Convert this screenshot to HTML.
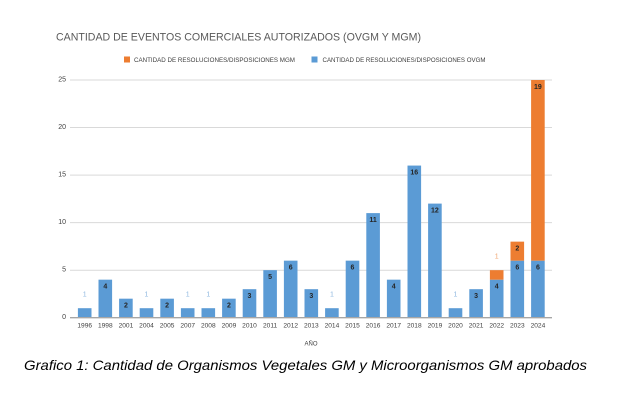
<!DOCTYPE html>
<html><head><meta charset="utf-8"><style>
html,body{margin:0;padding:0;background:#fff;}
svg{display:block;}
text{font-family:"Liberation Sans",sans-serif;}
</style></head><body>
<svg width="637" height="403" viewBox="0 0 637 403" xmlns="http://www.w3.org/2000/svg">
<rect width="637" height="403" fill="#fff"/>
<text x="56" y="40.5" font-size="11" fill="#595959" textLength="365" lengthAdjust="spacingAndGlyphs">CANTIDAD DE EVENTOS COMERCIALES AUTORIZADOS (OVGM Y MGM)</text>
<rect x="124" y="56.5" width="6" height="6" fill="#ED7D31"/>
<text x="134" y="62" font-size="6.5" fill="#404040" textLength="161" lengthAdjust="spacingAndGlyphs">CANTIDAD DE RESOLUCIONES/DISPOSICIONES MGM</text>
<rect x="311.5" y="56.5" width="6" height="6" fill="#5B9BD5"/>
<text x="322.5" y="62" font-size="6.5" fill="#404040" textLength="163" lengthAdjust="spacingAndGlyphs">CANTIDAD DE RESOLUCIONES/DISPOSICIONES OVGM</text>
<g stroke="#d9d9d9" stroke-width="1">
<line x1="70" y1="80" x2="552" y2="80"/>
<line x1="70" y1="127.5" x2="552" y2="127.5"/>
<line x1="70" y1="175.1" x2="552" y2="175.1"/>
<line x1="70" y1="222.6" x2="552" y2="222.6"/>
<line x1="70" y1="270.2" x2="552" y2="270.2"/>
</g>
<g font-size="7" fill="#404040" text-anchor="end" dominant-baseline="central">
<text x="66" y="80">25</text>
<text x="66" y="127.5">20</text>
<text x="66" y="175.1">15</text>
<text x="66" y="222.6">10</text>
<text x="66" y="270.2">5</text>
<text x="66" y="317.7">0</text>
</g>
<g fill="#5B9BD5">
<rect x="77.9" y="308.19" width="13.6" height="9.51"/>
<rect x="98.5" y="279.67" width="13.6" height="38.03"/>
<rect x="119.1" y="298.68" width="13.6" height="19.02"/>
<rect x="139.7" y="308.19" width="13.6" height="9.51"/>
<rect x="160.3" y="298.68" width="13.6" height="19.02"/>
<rect x="180.9" y="308.19" width="13.6" height="9.51"/>
<rect x="201.5" y="308.19" width="13.6" height="9.51"/>
<rect x="222.1" y="298.68" width="13.6" height="19.02"/>
<rect x="242.7" y="289.18" width="13.6" height="28.52"/>
<rect x="263.3" y="270.16" width="13.6" height="47.54"/>
<rect x="283.9" y="260.65" width="13.6" height="57.05"/>
<rect x="304.5" y="289.18" width="13.6" height="28.52"/>
<rect x="325.1" y="308.19" width="13.6" height="9.51"/>
<rect x="345.7" y="260.65" width="13.6" height="57.05"/>
<rect x="366.3" y="213.11" width="13.6" height="104.59"/>
<rect x="386.9" y="279.67" width="13.6" height="38.03"/>
<rect x="407.5" y="165.57" width="13.6" height="152.13"/>
<rect x="428.1" y="203.6" width="13.6" height="114.1"/>
<rect x="448.7" y="308.19" width="13.6" height="9.51"/>
<rect x="469.3" y="289.18" width="13.6" height="28.52"/>
<rect x="489.9" y="279.67" width="13.6" height="38.03"/>
<rect x="510.5" y="260.65" width="13.6" height="57.05"/>
<rect x="531.1" y="260.65" width="13.6" height="57.05"/>
</g>
<g fill="#ED7D31">
<rect x="489.9" y="270.16" width="13.6" height="9.51"/>
<rect x="510.5" y="241.64" width="13.6" height="19.01"/>
<rect x="531.1" y="80" width="13.6" height="180.65"/>
</g>
<line x1="70" y1="317.7" x2="552" y2="317.7" stroke="#a6a6a6" stroke-width="1.3"/>
<g font-size="7" font-weight="bold" fill="#262626" text-anchor="middle" dominant-baseline="central">
<text x="105.3" y="287.2">4</text>
<text x="125.9" y="306.2">2</text>
<text x="167.1" y="306.2">2</text>
<text x="228.9" y="306.2">2</text>
<text x="249.5" y="296.7">3</text>
<text x="270.1" y="277.7">5</text>
<text x="290.7" y="268.2">6</text>
<text x="311.3" y="296.7">3</text>
<text x="352.5" y="268.2">6</text>
<text x="373.1" y="220.6">11</text>
<text x="393.7" y="287.2">4</text>
<text x="414.3" y="173.1">16</text>
<text x="434.9" y="211.1">12</text>
<text x="476.1" y="296.7">3</text>
<text x="496.7" y="287.2">4</text>
<text x="517.3" y="268.2">6</text>
<text x="537.9" y="268.2">6</text>
<text x="517.3" y="249.1">2</text>
<text x="537.9" y="87.5">19</text>
</g>
<g font-size="7" fill="#8fb8e0" text-anchor="middle" dominant-baseline="central">
<text x="84.7" y="295.2">1</text>
<text x="146.5" y="295.2">1</text>
<text x="187.7" y="295.2">1</text>
<text x="208.3" y="295.2">1</text>
<text x="331.9" y="295.2">1</text>
<text x="455.5" y="295.2">1</text>
</g>
<text x="496.7" y="256.9" font-size="7" fill="#f0a570" text-anchor="middle" dominant-baseline="central">1</text>
<g font-size="6.6" fill="#404040" text-anchor="middle" dominant-baseline="central">
<text x="84.7" y="326">1996</text>
<text x="105.3" y="326">1998</text>
<text x="125.9" y="326">2001</text>
<text x="146.5" y="326">2004</text>
<text x="167.1" y="326">2005</text>
<text x="187.7" y="326">2007</text>
<text x="208.3" y="326">2008</text>
<text x="228.9" y="326">2009</text>
<text x="249.5" y="326">2010</text>
<text x="270.1" y="326">2011</text>
<text x="290.7" y="326">2012</text>
<text x="311.3" y="326">2013</text>
<text x="331.9" y="326">2014</text>
<text x="352.5" y="326">2015</text>
<text x="373.1" y="326">2016</text>
<text x="393.7" y="326">2017</text>
<text x="414.3" y="326">2018</text>
<text x="434.9" y="326">2019</text>
<text x="455.5" y="326">2020</text>
<text x="476.1" y="326">2021</text>
<text x="496.7" y="326">2022</text>
<text x="517.3" y="326">2023</text>
<text x="537.9" y="326">2024</text>
</g>
<text x="311" y="344.5" font-size="6" fill="#404040" text-anchor="middle" dominant-baseline="central">AÑO</text>
<text x="24" y="370" font-size="14" font-style="italic" fill="#000" textLength="563" lengthAdjust="spacingAndGlyphs">Grafico 1: Cantidad de Organismos Vegetales GM y Microorganismos GM aprobados</text>
</svg>
</body></html>
